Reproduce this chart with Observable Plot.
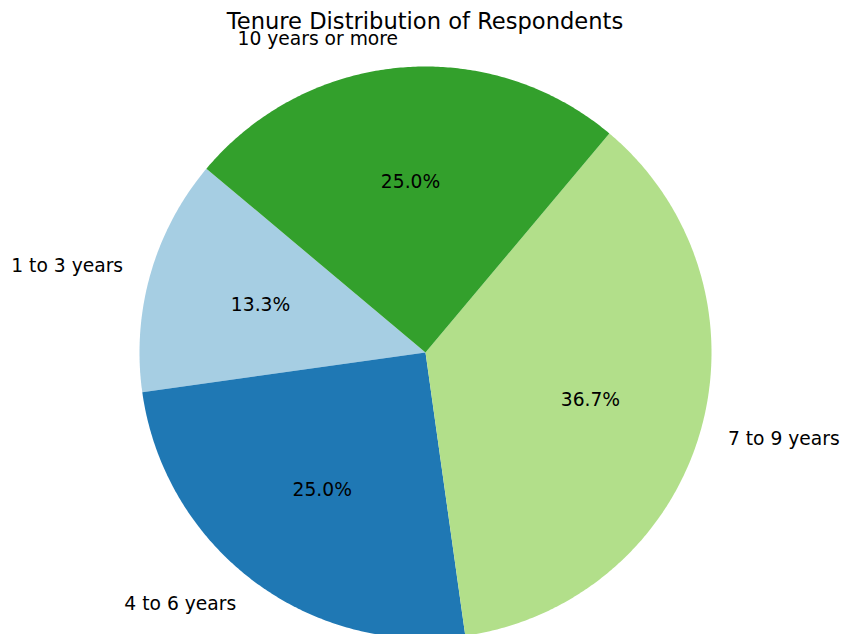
<!DOCTYPE html>
<html>
<head>
<meta charset="utf-8">
<script src="https://cdn.jsdelivr.net/npm/d3@7"></script>
<script src="https://cdn.jsdelivr.net/npm/@observablehq/plot@0.6"></script>
<style>
  html, body { margin: 0; padding: 0; background: #fff; overflow: hidden; }
  #wrap { position: relative; width: 841px; height: 634px; font-family: "DejaVu Sans", sans-serif; }
  #title { position: absolute; left: 0; width: 850px; top: 7px; text-align: center; font-size: 22.6px; line-height: 28px; color: #000; z-index: 2; pointer-events: none; }
  #chart { position: absolute; left: 0; top: 0; }
  #chart svg { overflow: visible; }
</style>
</head>
<body>
<div id="wrap">
  <div id="title">Tenure Distribution of Respondents</div>
  <div id="chart"></div>
</div>
<script>
// ---- data ----
const categories = ["1 to 3 years", "4 to 6 years", "7 to 9 years", "10 years or more"];
const counts = [8, 15, 22, 15];
const colors = ["#a6cee3", "#1f78b4", "#b2df8a", "#33a02c"];
const startAngleDeg = 140;

// ---- layout ----
const W = 841, H = 634;
const cx = 425, cy = 352, R = 286;
const fs = 18.7;

const total = d3.sum(counts);
const toRad = Math.PI / 180;
let acc = startAngleDeg;
const slices = categories.map((c, i) => {
  const a0 = acc;
  const a1 = acc + counts[i] / total * 360;
  acc = a1;
  return { label: c, a0, a1, mid: (a0 + a1) / 2, pct: counts[i] / total * 100 };
});

// polygon points for each wedge (counter-clockwise, matplotlib-style)
const wedgePts = [];
for (const s of slices) {
  wedgePts.push({ label: s.label, x: 0, y: 0 });
  const n = Math.max(2, Math.ceil((s.a1 - s.a0) * 2));
  for (let k = 0; k <= n; k++) {
    const a = (s.a0 + (s.a1 - s.a0) * k / n) * toRad;
    wedgePts.push({ label: s.label, x: Math.cos(a), y: Math.sin(a) });
  }
}

const labelPts = slices.map(s => ({
  label: s.label,
  x: 1.1 * Math.cos(s.mid * toRad),
  y: 1.1 * Math.sin(s.mid * toRad)
}));
const pctPts = slices.map(s => ({
  text: s.pct.toFixed(1) + "%",
  x: 0.6 * Math.cos(s.mid * toRad),
  y: 0.6 * Math.sin(s.mid * toRad)
}));

const plot = Plot.plot({
  width: W,
  height: H,
  margin: 0,
  x: { domain: [-cx / R, (W - cx) / R], axis: null },
  y: { domain: [-(H - cy) / R, cy / R], axis: null },
  color: { domain: categories, range: colors },
  style: { fontFamily: "DejaVu Sans, sans-serif", background: "#fff", overflow: "visible" },
  marks: [
    Plot.line(wedgePts, { x: "x", y: "y", z: "label", fill: "label", stroke: "none", curve: "linear-closed" }),
    Plot.text(labelPts.filter(d => d.x >= 0), { x: "x", y: "y", text: "label", textAnchor: "start", fontSize: fs, fill: "#000" }),
    Plot.text(labelPts.filter(d => d.x < 0), { x: "x", y: "y", text: "label", textAnchor: "end", fontSize: fs, fill: "#000" }),
    Plot.text(pctPts, { x: "x", y: "y", text: "text", fontSize: fs, fill: "#000" })
  ]
});
document.getElementById("chart").appendChild(plot);
</script>
</body>
</html>
